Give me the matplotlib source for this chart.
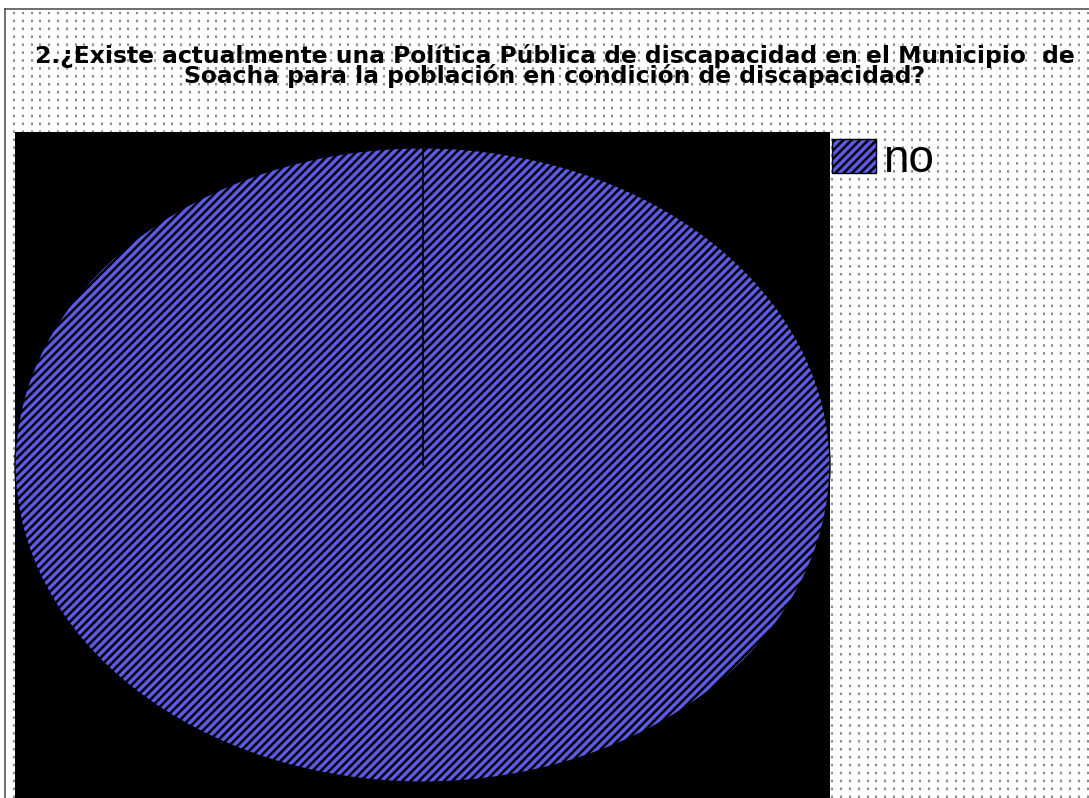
import numpy as np
import matplotlib
matplotlib.use('Agg')
import matplotlib.pyplot as plt
from matplotlib.lines import Line2D

plt.rcParams['font.family'] = ['Liberation Sans', 'DejaVu Sans']
plt.rcParams['hatch.linewidth'] = 1.8

# datos
labels = ['no']
values = [100]
title = ('2.¿Existe actualmente una Política Pública de discapacidad en el Municipio  de\n'
         'Soacha para la población en condición de discapacidad?')

W, H = 1089, 798
fig = plt.figure(figsize=(W / 100, H / 100), dpi=100)
fig.patch.set_facecolor('white')

# fondo punteado (columnas verticales de puntos)
for xp in np.arange(14, W, 8.8):
    fig.add_artist(Line2D([xp / W, xp / W], [0, 1 - 12 / H], transform=fig.transFigure,
                          color='#8c8c8c', lw=1.5, linestyle=(0, (1.2, 2.6)), zorder=0))
# borde
fig.add_artist(Line2D([5 / W, 5 / W], [0, 1 - 9 / H], transform=fig.transFigure, color='#555555', lw=1.2))
fig.add_artist(Line2D([5 / W, 1], [1 - 9 / H, 1 - 9 / H], transform=fig.transFigure, color='#555555', lw=1.2))

fig.text(555 / W, 1 - 66 / H, title, ha='center', va='center', fontsize=16.8, fontweight='bold',
         family='DejaVu Sans', linespacing=0.82)

ax = fig.add_axes([15 / W, 0, (830 - 15) / W, (H - 132) / H])
wedges, _ = ax.pie(values, startangle=90, counterclock=False, radius=1.0,
                   colors=['#5a5aeb'],
                   wedgeprops=dict(edgecolor='black', linewidth=1.0, hatch='////'))
# linea radial del sector unico (centro -> arriba)
w = wedges[0]
cx, cy = w.center
ax.plot([cx, cx], [cy, cy + w.r], color='black', lw=1.2)
ax.set_aspect('auto')
ax.set_xlim(-1.0, 1.0)
ax.set_ylim(-1.05, 1.05)
ax.set_frame_on(True)
ax.set_facecolor('black')
for s in ax.spines.values():
    s.set_visible(False)
ax.set_xticks([])
ax.set_yticks([])

fig.legend(wedges, labels, loc='upper left', bbox_to_anchor=(832 / W, 1 - 138 / H),
           frameon=False, fontsize=33, handlelength=0.96, handleheight=0.74,
           handletextpad=0.15, borderaxespad=0, borderpad=0)

fig.savefig('out.png', dpi=100)
